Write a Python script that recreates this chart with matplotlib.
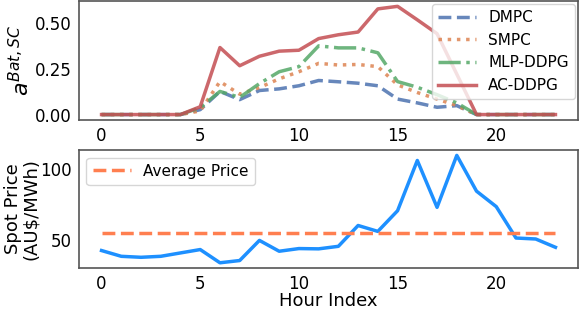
import numpy as np
import matplotlib
matplotlib.use("Agg")
import matplotlib.pyplot as plt

hours = np.arange(24)

# battery action per method
dmpc = [0, 0, 0, 0, 0, 0.027, 0.127, 0.082, 0.132, 0.141, 0.158, 0.187, 0.180, 0.172,
        0.158, 0.085, 0.064, 0.040, 0.049, 0, 0, 0, 0, 0]
smpc = [0, 0, 0, 0, 0, 0.020, 0.181, 0.112, 0.148, 0.196, 0.235, 0.281, 0.272, 0.275,
        0.263, 0.163, 0.121, 0.085, 0.049, 0, 0, 0, 0, 0]
mlp_ddpg = [0, 0, 0, 0, 0, 0.038, 0.127, 0.094, 0.170, 0.235, 0.263, 0.377, 0.366, 0.366,
            0.339, 0.181, 0.150, 0.109, 0.064, 0, 0, 0, 0, 0]
ac_ddpg = [0, 0, 0, 0, 0, 0.043, 0.368, 0.268, 0.320, 0.348, 0.353, 0.417, 0.438, 0.453,
           0.580, 0.594, 0.520, 0.444, 0.222, 0, 0, 0, 0, 0]

spot_price = [42.3, 38.2, 37.5, 38.2, 40.6, 43.0, 33.6, 35.2, 49.5, 41.8, 43.7, 43.5,
              45.3, 60.1, 55.9, 70.6, 106.3, 73.0, 109.9, 84.5, 73.5, 51.2, 50.5, 44.6]
avg_price = 54.5

plt.rcParams["font.family"] = "DejaVu Sans"

fig = plt.figure(figsize=(5.84, 3.10), dpi=100)
ax1 = fig.add_axes([0.135, 0.613, 0.855, 0.384])
ax2 = fig.add_axes([0.135, 0.135, 0.855, 0.381])

ax1.plot(hours, dmpc, "--", color="#4C72B0", lw=2.5, alpha=0.85, label="DMPC")
ax1.plot(hours, smpc, ":", color="#DD8452", lw=2.5, alpha=0.85, label="SMPC")
ax1.plot(hours, mlp_ddpg, "-.", color="#55A868", lw=2.5, alpha=0.85, label="MLP-DDPG")
ax1.plot(hours, ac_ddpg, "-", color="#C44E52", lw=2.5, alpha=0.85, label="AC-DDPG")
ax1.set_yticks([0, 0.25, 0.5])
ax1.set_ylabel("$a^{Bat,SC}$", fontsize=16, labelpad=1)
ax1.legend(loc="upper right", fontsize=11, framealpha=0.8, handlelength=2.5,
           borderaxespad=0.2)

ax2.plot(hours, spot_price, color="#1E90FF", lw=2.5)
ax2.plot(hours, [avg_price] * len(hours), "--", color="#FF7F50", lw=2.5,
         label="Average Price")
ax2.set_yticks([50, 100])
ax2.set_ylabel("Spot Price\n(AU\\$/MWh)", fontsize=13, labelpad=0, linespacing=1.0)
ax2.set_xlabel("Hour Index", fontsize=13, labelpad=-1)
ax2.legend(loc="upper left", fontsize=11, framealpha=0.8, handlelength=2.5)

for ax in (ax1, ax2):
    ax.set_xticks([0, 5, 10, 15, 20])
    ax.tick_params(labelsize=12, length=0, pad=5)
    for s in ax.spines.values():
        s.set_color("#555555")
        s.set_linewidth(1.2)

fig.savefig("out.png", dpi=100)
